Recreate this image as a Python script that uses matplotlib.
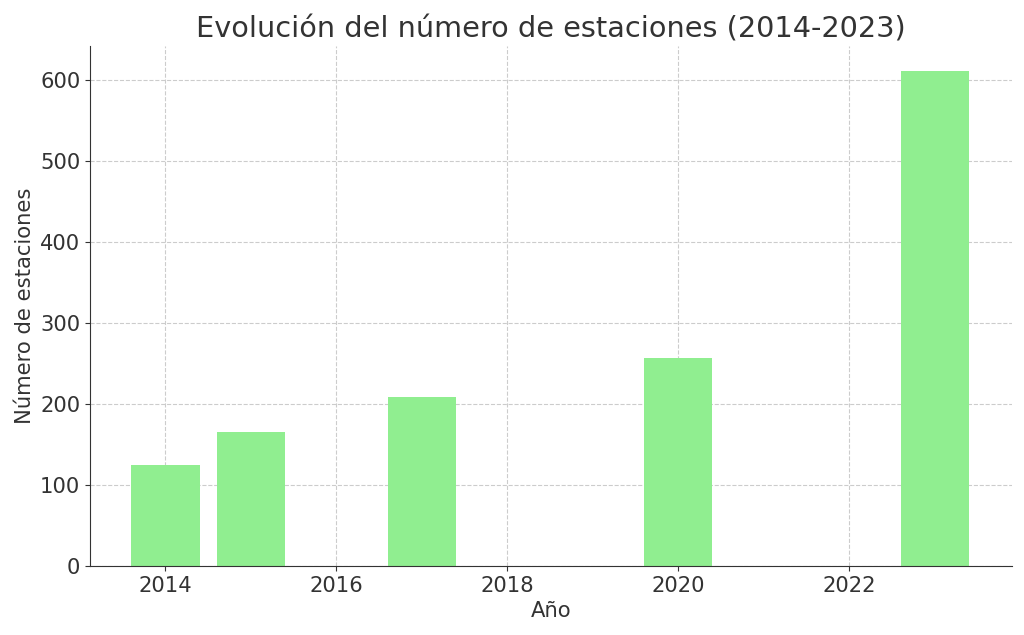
import matplotlib.pyplot as plt

years = [2014, 2015, 2017, 2020, 2023]
stations = [124, 165, 208, 257, 611]

plt.rcParams['text.color'] = '#333333'
plt.rcParams['axes.labelcolor'] = '#333333'
plt.rcParams['xtick.color'] = '#333333'
plt.rcParams['ytick.color'] = '#333333'

fig, ax = plt.subplots(figsize=(10.24, 6.35), dpi=100)
ax.bar(years, stations, color='lightgreen', width=0.8, zorder=2)
ax.set_title('Evolución del número de estaciones (2014-2023)', fontsize=20.7)
ax.set_xlabel('Año', fontsize=15.2)
ax.set_ylabel('Número de estaciones', fontsize=15.2)
ax.tick_params(labelsize=15.2)
ax.grid(True, linestyle='--', color='#cccccc', zorder=0)
ax.set_axisbelow(True)
ax.spines['top'].set_visible(False)
ax.spines['right'].set_visible(False)
ax.spines['left'].set_color('#333333')
ax.spines['bottom'].set_color('#333333')
ax.set_xlim(2013.12, 2023.9)
ax.set_ylim(0, 642)
plt.subplots_adjust(left=0.088, right=0.988, top=0.928, bottom=0.109)
plt.savefig('out.png')
